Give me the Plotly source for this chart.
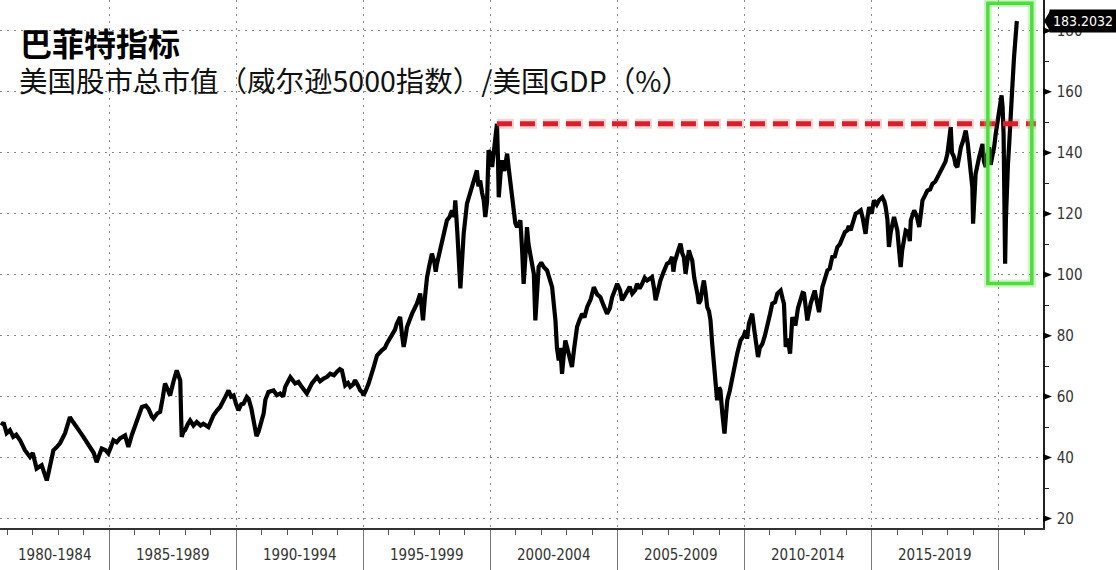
import plotly.graph_objects as go

# ---------------- data ----------------
title_text = "巴菲特指标"
subtitle_text = "美国股市总市值（威尔逊5000指数）/美国GDP（%）"

years = [
    1980.77, 1980.85, 1980.97, 1981.10, 1981.23, 1981.35, 1981.50, 1981.69, 1981.89, 1982.00,
    1982.15, 1982.35, 1982.45, 1982.55, 1982.62, 1982.68, 1982.81, 1982.95, 1983.07, 1983.27,
    1983.46, 1983.60, 1983.73, 1983.85, 1983.99, 1984.10, 1984.25, 1984.40, 1984.51, 1984.60,
    1984.71, 1984.85, 1984.97, 1985.05, 1985.17, 1985.30, 1985.43, 1985.63, 1985.76, 1985.90,
    1985.96, 1986.15, 1986.29, 1986.45, 1986.55, 1986.68, 1986.75, 1986.90, 1987.01, 1987.12,
    1987.20, 1987.30, 1987.40, 1987.53, 1987.66, 1987.75, 1987.80, 1987.84, 1987.86, 1987.92,
    1987.99, 1988.10, 1988.19, 1988.32, 1988.45, 1988.60, 1988.71, 1988.91, 1989.11, 1989.25,
    1989.37, 1989.55, 1989.70, 1989.80, 1989.90, 1990.00, 1990.09, 1990.20, 1990.29, 1990.42,
    1990.49, 1990.60, 1990.70, 1990.80, 1990.88, 1990.95, 1991.08, 1991.15, 1991.27, 1991.47,
    1991.60, 1991.73, 1991.85, 1991.93, 1992.03, 1992.13, 1992.32, 1992.45, 1992.58, 1992.78,
    1992.90, 1992.98, 1993.18, 1993.30, 1993.44, 1993.58, 1993.70, 1993.85, 1993.96, 1994.08,
    1994.16, 1994.22, 1994.29, 1994.40, 1994.49, 1994.60, 1994.68, 1994.80, 1994.88, 1994.96,
    1995.01, 1995.10, 1995.21, 1995.41, 1995.54, 1995.73, 1995.85, 1995.93, 1996.13, 1996.25,
    1996.32, 1996.45, 1996.53, 1996.59, 1996.65, 1996.72, 1996.92, 1997.11, 1997.24, 1997.30,
    1997.35, 1997.42, 1997.51, 1997.60, 1997.70, 1997.80, 1997.85, 1997.90, 1998.03, 1998.15,
    1998.29, 1998.40, 1998.49, 1998.58, 1998.62, 1998.70, 1998.75, 1998.80, 1998.82, 1998.86,
    1998.95, 1999.08, 1999.18, 1999.28, 1999.38, 1999.47, 1999.53, 1999.60, 1999.67, 1999.74,
    1999.80, 1999.87, 1999.93, 2000.00, 2000.07, 2000.15, 2000.20, 2000.26, 2000.30, 2000.33,
    2000.40, 2000.46, 2000.55, 2000.66, 2000.72, 2000.79, 2000.85, 2000.92, 2000.98, 2001.05,
    2001.18, 2001.25, 2001.31, 2001.38, 2001.44, 2001.50, 2001.57, 2001.65, 2001.71, 2001.77,
    2001.84, 2001.90, 2002.00, 2002.10, 2002.23, 2002.35, 2002.43, 2002.50, 2002.56, 2002.62,
    2002.69, 2002.75, 2002.82, 2002.88, 2002.95, 2003.08, 2003.15, 2003.21, 2003.30, 2003.41,
    2003.50, 2003.61, 2003.70, 2003.81, 2003.95, 2004.07, 2004.20, 2004.33, 2004.45, 2004.59,
    2004.70, 2004.79, 2004.90, 2004.99, 2005.10, 2005.18, 2005.28, 2005.38, 2005.48, 2005.58,
    2005.70, 2005.77, 2005.87, 2005.97, 2006.07, 2006.17, 2006.30, 2006.36, 2006.45, 2006.50,
    2006.60, 2006.69, 2006.82, 2006.95, 2007.05, 2007.15, 2007.20, 2007.25, 2007.35, 2007.48,
    2007.55, 2007.61, 2007.68, 2007.75, 2007.81, 2007.88, 2007.94, 2008.02, 2008.07, 2008.15,
    2008.20, 2008.27, 2008.35, 2008.40, 2008.47, 2008.53, 2008.60, 2008.66, 2008.72, 2008.79,
    2008.85, 2008.92, 2009.00, 2009.05, 2009.12, 2009.17, 2009.21, 2009.27, 2009.32, 2009.42,
    2009.52, 2009.62, 2009.71, 2009.84, 2009.97, 2010.04, 2010.10, 2010.17, 2010.30, 2010.38,
    2010.43, 2010.53, 2010.60, 2010.70, 2010.80, 2010.89, 2011.00, 2011.09, 2011.20, 2011.29,
    2011.42, 2011.50, 2011.55, 2011.62, 2011.70, 2011.79, 2011.88, 2011.95, 2012.01, 2012.10,
    2012.20, 2012.28, 2012.34, 2012.40, 2012.47, 2012.60, 2012.70, 2012.76, 2012.85, 2012.93,
    2013.06, 2013.15, 2013.26, 2013.35, 2013.45, 2013.55, 2013.65, 2013.75, 2013.85, 2013.95,
    2014.04, 2014.10, 2014.17, 2014.25, 2014.37, 2014.47, 2014.57, 2014.65, 2014.76, 2014.82,
    2014.90, 2015.00, 2015.09, 2015.20, 2015.29, 2015.42, 2015.50, 2015.55, 2015.62, 2015.68,
    2015.75, 2015.88, 2015.95, 2016.01, 2016.08, 2016.14, 2016.20, 2016.34, 2016.45, 2016.50,
    2016.54, 2016.67, 2016.78, 2016.87, 2016.95, 2017.00, 2017.10, 2017.19, 2017.30, 2017.39,
    2017.50, 2017.59, 2017.70, 2017.78, 2017.90, 2017.98, 2018.05, 2018.11, 2018.16, 2018.24,
    2018.30, 2018.37, 2018.45, 2018.51, 2018.60, 2018.70, 2018.78, 2018.83, 2018.90, 2018.96,
    2018.99, 2019.04, 2019.09, 2019.23, 2019.36, 2019.42, 2019.49, 2019.55, 2019.62, 2019.68,
    2019.75, 2019.82, 2019.88, 2019.95, 2020.01, 2020.06, 2020.11, 2020.15, 2020.19, 2020.22,
    2020.25, 2020.28, 2020.32, 2020.36, 2020.41, 2020.47, 2020.54, 2020.60, 2020.66, 2020.71,
]

ratio = [
    50.5, 51.5, 48.0, 49.0, 46.8, 47.5, 45.7, 42.4, 40.2, 41.5,
    36.4, 37.5, 35.0, 32.5, 35.0, 37.0, 42.4, 43.5, 44.7, 48.0,
    53.3, 51.5, 49.6, 48.5, 46.8, 45.5, 43.5, 41.5, 38.5, 41.0,
    43.0, 42.5, 41.4, 43.0, 45.7, 45.0, 46.3, 47.3, 43.5, 47.5,
    49.0, 53.3, 56.6, 57.0, 56.0, 53.5, 52.8, 54.5, 55.0, 60.0,
    64.3, 62.5, 60.4, 64.8, 68.6, 66.5, 65.3, 52.0, 46.8, 48.5,
    49.0, 51.0, 52.2, 50.5, 51.7, 50.5, 51.1, 50.0, 53.9, 55.5,
    56.6, 59.5, 62.0, 60.0, 60.4, 57.5, 55.5, 57.5, 57.7, 59.9,
    59.3, 56.0, 50.5, 47.0, 48.5, 51.0, 54.4, 59.0, 61.5, 62.0,
    60.5, 61.0, 60.0, 63.2, 65.0, 66.4, 64.3, 64.8, 63.2, 61.0,
    63.0, 64.3, 66.4, 65.0, 65.9, 66.5, 67.5, 67.0, 68.1, 69.0,
    68.6, 65.5, 63.7, 64.5, 63.2, 64.0, 65.4, 63.5, 62.0, 61.5,
    60.4, 62.0, 64.3, 69.7, 73.5, 75.2, 76.0, 77.4, 80.6, 82.0,
    83.9, 86.1, 80.0, 76.3, 79.0, 82.8, 87.2, 90.5, 93.8, 88.0,
    85.0, 92.0, 99.2, 103.0, 106.9, 104.0, 101.0, 103.6, 108.0, 113.0,
    117.8, 119.0, 121.1, 119.0, 124.4, 114.0, 106.9, 99.0, 95.5, 101.0,
    113.4, 123.3, 126.0, 128.7, 131.0, 134.2, 129.0, 130.9, 127.0, 124.4,
    118.9, 124.0, 140.8, 139.7, 135.3, 142.0, 147.3, 149.5, 138.0, 125.4,
    133.0, 137.5, 134.0, 139.7, 135.0, 129.8, 126.0, 122.2, 117.0, 115.6,
    117.8, 108.0, 97.0, 106.0, 115.6, 110.0, 106.9, 103.0, 100.3, 85.0,
    95.0, 102.5, 104.0, 102.5, 101.4, 98.0, 95.9, 90.0, 85.0, 76.0,
    71.9, 76.0, 67.5, 73.0, 78.4, 74.1, 72.0, 69.7, 76.0, 82.8,
    85.0, 87.2, 86.0, 89.4, 92.0, 95.9, 93.5, 92.6, 90.0, 87.2,
    89.0, 92.6, 95.0, 97.0, 95.0, 91.6, 93.0, 94.9, 96.0, 93.8,
    95.0, 97.0, 95.5, 97.0, 99.0, 98.1, 99.0, 99.2, 95.0, 91.6,
    95.0, 98.1, 101.0, 103.6, 104.0, 105.8, 101.0, 104.0, 106.9, 110.2,
    107.0, 105.8, 100.3, 104.0, 108.0, 106.0, 104.7, 99.0, 95.9, 93.5,
    90.5, 91.6, 96.0, 98.1, 94.0, 89.4, 88.0, 85.0, 78.0, 69.7,
    63.0, 58.8, 63.0, 62.1, 55.0, 52.0, 47.9, 54.0, 58.8, 62.0,
    66.4, 70.0, 74.1, 78.4, 80.0, 81.7, 79.0, 83.9, 87.2, 82.0,
    78.4, 73.0, 76.0, 77.3, 80.0, 82.8, 87.0, 90.5, 91.0, 93.8,
    94.8, 92.0, 90.5, 76.3, 79.0, 74.1, 86.1, 84.0, 83.9, 89.0,
    92.6, 94.0, 93.8, 89.0, 85.0, 90.5, 93.0, 94.8, 91.0, 87.7,
    95.9, 99.0, 101.4, 102.0, 105.8, 106.0, 109.0, 110.0, 112.3, 114.0,
    114.5, 116.0, 114.5, 117.0, 120.0, 120.5, 121.1, 118.5, 113.4, 118.0,
    122.2, 120.0, 124.4, 123.0, 124.4, 125.4, 124.0, 122.2, 118.0, 109.1,
    114.0, 118.9, 117.0, 114.5, 108.0, 102.5, 108.0, 114.5, 114.0, 111.0,
    117.8, 121.1, 119.0, 115.6, 121.0, 124.4, 126.0, 127.6, 128.0, 129.8,
    130.5, 132.0, 133.5, 135.3, 137.0, 139.7, 144.0, 148.4, 140.0, 138.6,
    136.0, 135.3, 139.0, 141.8, 144.0, 147.3, 143.0, 138.6, 134.0, 128.7,
    116.7, 126.0, 133.1, 138.6, 142.9, 137.0, 135.3, 139.0, 141.8, 136.0,
    138.6, 142.0, 146.2, 150.0, 153.9, 156.0, 158.8, 155.0, 146.0, 125.0,
    103.6, 118.0, 132.0, 136.0, 142.9, 150.0, 162.6, 171.3, 177.0, 183.2,
]

period_starts = [1980, 1985, 1990, 1995, 2000, 2005, 2010, 2015]
period_labels = ["1980-1984", "1985-1989", "1990-1994", "1995-1999",
                 "2000-2004", "2005-2009", "2010-2014", "2015-2019"]
separator_years = [1985, 1990, 1995, 2000, 2005, 2010, 2015, 2020]
y_major_ticks = [20, 40, 60, 80, 100, 120, 140, 160, 180]
y_minor_ticks = [30, 50, 70, 90, 110, 130, 150, 170]
last_value_text = "183.2032"
last_value = 183.2032

# highlight box around the 2020 episode
highlight_x = [2019.57, 2021.30]
highlight_y = [97.1, 189.0]
line_end_year = 2021.46

# ---------------- geometry ----------------
W, H = 1116, 570
ML, MR, MT, MB = 0, 73, 0, 42
PW, PH = W - ML - MR, H - MT - MB
X_RANGE = [1980.71, 2021.74]
Y_RANGE = [16.9, 190.1]


def py(v):
    return (v - Y_RANGE[0]) / (Y_RANGE[1] - Y_RANGE[0])


fig = go.Figure()
fig.add_trace(go.Scatter(
    x=years, y=ratio, mode="lines",
    line=dict(color="#000000", width=4.2),
    hoverinfo="skip", showlegend=False,
))

shapes = []
# previous peak (2000) reference line
pre2001 = [(v, t) for t, v in zip(years, ratio) if t < 2001]
peak_v, peak_t = max(pre2001)
shapes.append(dict(type="line", xref="x", yref="y", x0=peak_t, x1=line_end_year,
                   y0=peak_v, y1=peak_v,
                   line=dict(color="rgba(225,60,60,0.22)", width=10, dash="17px,6px")))
shapes.append(dict(type="line", xref="x", yref="y", x0=peak_t, x1=line_end_year,
                   y0=peak_v, y1=peak_v,
                   line=dict(color="#d8202a", width=5, dash="15px,8px")))
# green highlight box
shapes.append(dict(type="rect", xref="x", yref="y",
                   x0=highlight_x[0], x1=highlight_x[1], y0=highlight_y[0], y1=highlight_y[1],
                   line=dict(color="rgba(110,230,90,0.35)", width=8)))
shapes.append(dict(type="rect", xref="x", yref="y",
                   x0=highlight_x[0], x1=highlight_x[1], y0=highlight_y[0], y1=highlight_y[1],
                   line=dict(color="#4fdc3c", width=3.5)))

# right-axis pointer triangles
dx = 1.0 / PW
dy = 1.0 / PH
for v in y_major_ticks:
    yy = py(v)
    shapes.append(dict(type="path", xref="paper", yref="paper",
                       path=f"M 1,{yy + 3.5*dy} L {1 + 9*dx},{yy} L 1,{yy - 3.5*dy} Z",
                       fillcolor="#000000", line=dict(width=0)))

# last-value tag pointer
yl = py(last_value)
shapes.append(dict(type="path", xref="paper", yref="paper",
                   path=f"M {1 + 1*dx},{yl} L {1 + 7*dx},{yl + 10*dy} L {1 + 7*dx},{yl - 10*dy} Z",
                   fillcolor="#000000", line=dict(width=0)))

annotations = []
# period labels
for s, lab in zip(period_starts, period_labels):
    a = max(s, X_RANGE[0])
    b = min(s + 5, X_RANGE[1])
    annotations.append(dict(x=(a + b) / 2, y=-27 * dy, xref="x", yref="paper",
                            text=lab, showarrow=False, xanchor="center", yanchor="middle",
                            font=dict(family="DejaVu Sans Condensed, DejaVu Sans", size=15, color="#333333")))
# last value tag
annotations.append(dict(x=1 + 6 * dx, y=yl, xref="paper", yref="paper",
                        text=last_value_text, showarrow=False, xanchor="left", yanchor="middle",
                        bgcolor="#000000", borderpad=2, width=62, height=18, align="center",
                        font=dict(family="DejaVu Sans Condensed, DejaVu Sans", size=14, color="#ffffff")))
# titles
annotations.append(dict(x=18 * dx, y=1 - 42 * dy, xref="paper", yref="paper",
                        text="<b>" + title_text + "</b>", showarrow=False,
                        xanchor="left", yanchor="middle",
                        font=dict(family="Noto Sans CJK SC", size=32, color="#000000")))
annotations.append(dict(x=17 * dx, y=1 - 80 * dy, xref="paper", yref="paper",
                        text=subtitle_text, showarrow=False,
                        xanchor="left", yanchor="middle",
                        font=dict(family="Noto Sans CJK SC", size=28.5, color="#111111")))

fig.update_layout(
    width=W, height=H, autosize=False,
    margin=dict(l=ML, r=MR, t=MT, b=MB, pad=0),
    paper_bgcolor="#ffffff", plot_bgcolor="#ffffff",
    showlegend=False,
    shapes=shapes, annotations=annotations,
    xaxis=dict(
        range=X_RANGE, tickmode="array", tickvals=separator_years,
        ticktext=[""] * len(separator_years),
        ticks="outside", ticklen=44, tickcolor="#777777", tickwidth=1,
        showgrid=True, gridcolor="#8a8a8a", gridwidth=1, griddash="2px,5px",
        showline=True, linecolor="#333333", linewidth=1.5,
        zeroline=False, automargin=False,
        minor=dict(tick0=1980, dtick=1, ticks="outside", ticklen=5,
                   tickcolor="#555555", tickwidth=1, showgrid=False),
    ),
    yaxis=dict(
        range=Y_RANGE, side="right", tickmode="array", tickvals=y_major_ticks,
        ticktext=[str(v) for v in y_major_ticks],
        ticks="outside", ticklen=9, tickcolor="rgba(0,0,0,0)",
        tickfont=dict(family="DejaVu Sans Condensed, DejaVu Sans", size=15, color="#333333"),
        showgrid=True, gridcolor="#8a8a8a", gridwidth=1, griddash="2px,5px",
        showline=True, linecolor="#222222", linewidth=1.5,
        zeroline=False, automargin=False,
        minor=dict(tickvals=y_minor_ticks, ticks="outside", ticklen=4,
                   tickcolor="#222222", tickwidth=1, showgrid=False),
    ),
)

fig.write_html("out.html", config={"displayModeBar": False},
               post_script="document.body.style.margin='0px';")
